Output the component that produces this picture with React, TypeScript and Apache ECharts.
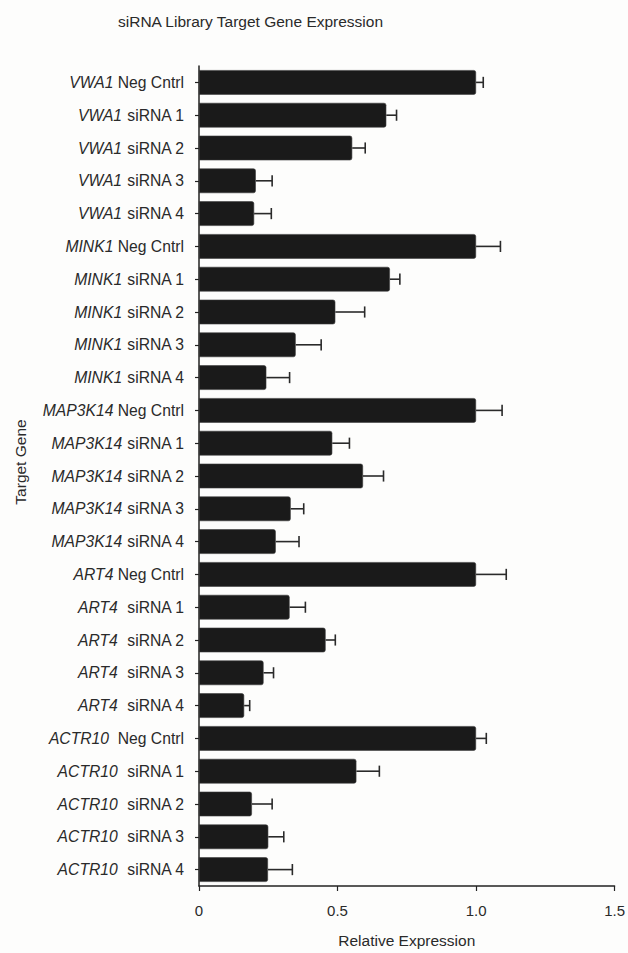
import React, { useEffect, useRef } from "react";
import * as echarts from "echarts";

const genes = ["VWA1", "VWA1", "VWA1", "VWA1", "VWA1", "MINK1", "MINK1", "MINK1", "MINK1", "MINK1", "MAP3K14", "MAP3K14", "MAP3K14", "MAP3K14", "MAP3K14", "ART4", "ART4", "ART4", "ART4", "ART4", "ACTR10", "ACTR10", "ACTR10", "ACTR10", "ACTR10"];
const conditions = [" Neg Cntrl", " siRNA 1", " siRNA 2", " siRNA 3", " siRNA 4", " Neg Cntrl", " siRNA 1", " siRNA 2", " siRNA 3", " siRNA 4", " Neg Cntrl", " siRNA 1", " siRNA 2", " siRNA 3", " siRNA 4", " Neg Cntrl", "  siRNA 1", "  siRNA 2", "  siRNA 3", "  siRNA 4", "  Neg Cntrl", "  siRNA 1", "  siRNA 2", "  siRNA 3", "  siRNA 4"];
const values = [1.0, 0.676, 0.553, 0.205, 0.199, 1.0, 0.689, 0.492, 0.349, 0.243, 1.0, 0.481, 0.592, 0.331, 0.277, 1.0, 0.327, 0.457, 0.233, 0.163, 1.0, 0.568, 0.191, 0.25, 0.249];
const errors = [0.026, 0.037, 0.047, 0.059, 0.062, 0.088, 0.036, 0.106, 0.092, 0.084, 0.094, 0.062, 0.074, 0.047, 0.084, 0.109, 0.057, 0.035, 0.036, 0.02, 0.037, 0.083, 0.073, 0.056, 0.088];
const xTicks = ["0", "0.5", "1.0", "1.5"];

const categories = genes.map((g, i) => `{i|${g}}${conditions[i]}`);

export default function App() {
  const ref = useRef<HTMLDivElement>(null);
  useEffect(() => {
    if (!ref.current) return;
    const chart = echarts.init(ref.current, null, { renderer: "svg" });
    const font = "Liberation Sans, Arial, sans-serif";
    const errData = values.map((v, i) => [v, i, v + errors[i]]);
    chart.setOption({
      animation: false,
      backgroundColor: "#fdfdfc",
      title: {
        text: "siRNA Library Target Gene Expression",
        left: 113,
        top: 8,
        textStyle: { fontFamily: font, fontSize: 15.5, fontWeight: "normal", color: "#2a2a2a" },
      },
      graphic: [
        {
          type: "text",
          x: 20,
          y: 462,
          rotation: Math.PI / 2,
          style: {
            text: "Target Gene",
            font: `15.5px ${font}`,
            fill: "#2a2a2a",
            textAlign: "center",
            textVerticalAlign: "middle",
          },
        },
      ],
      grid: { left: 199, right: 11, top: 66, bottom: 65 },
      xAxis: {
        type: "value",
        min: 0,
        max: 1.5,
        interval: 0.5,
        axisLine: { show: true, lineStyle: { color: "#222", width: 1.5 } },
        axisTick: { show: true, length: 5, lineStyle: { color: "#222", width: 1.2 } },
        splitLine: { show: false },
        axisLabel: {
          margin: 17,
          fontFamily: font,
          fontSize: 15,
          color: "#2a2a2a",
          formatter: (v: number) => xTicks[Math.round(v / 0.5)] ?? String(v),
        },
        name: "Relative Expression",
        nameLocation: "middle",
        nameGap: 46,
        nameTextStyle: { fontFamily: font, fontSize: 15.5, color: "#2a2a2a" },
      },
      yAxis: {
        type: "category",
        inverse: true,
        data: categories,
        axisLine: { show: true, lineStyle: { color: "#222", width: 1.5 } },
        axisTick: { show: true, alignWithLabel: true, length: 4, lineStyle: { color: "#222", width: 1.2 } },
        axisLabel: {
          margin: 15,
          fontFamily: font,
          fontSize: 15.7,
          color: "#2a2a2a",
          rich: {
            i: { fontStyle: "italic", fontFamily: font, fontSize: 15.7, color: "#2a2a2a" },
          },
        },
      },
      series: [
        {
          type: "bar",
          data: values,
          barCategoryGap: "25%",
          itemStyle: { color: "#1a1a1a", borderRadius: [0, 2, 2, 0], borderColor: "#3a3a3a", borderWidth: 0.6 },
          z: 2,
        },
        {
          type: "custom",
          data: errData,
          z: 3,
          renderItem: (params: any, api: any) => {
            const start = api.coord([api.value(0), api.value(1)]);
            const end = api.coord([api.value(2), api.value(1)]);
            const band = api.size([0, 1])[1];
            const h = band * 0.17;
            const style = { stroke: "#2a2a2a", lineWidth: 1.6 };
            return {
              type: "group",
              children: [
                { type: "line", shape: { x1: start[0], y1: start[1], x2: end[0], y2: end[1] }, style },
                { type: "line", shape: { x1: end[0], y1: end[1] - h, x2: end[0], y2: end[1] + h }, style },
              ],
            };
          },
        },
      ],
    });
    return () => chart.dispose();
  }, []);
  return <div ref={ref} style={{ position: "fixed", left: 0, top: 0, width: 628, height: 953 }} />;
}
